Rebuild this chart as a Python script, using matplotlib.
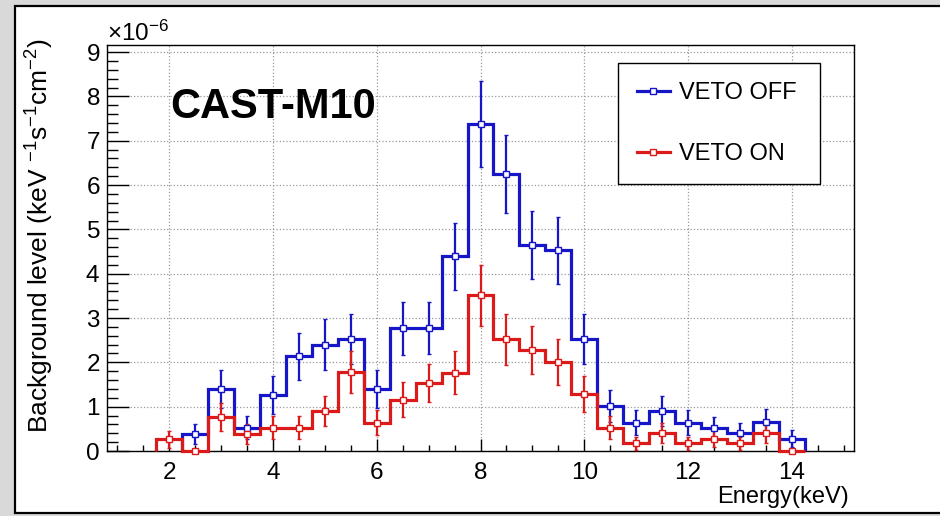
import numpy as np
import matplotlib
matplotlib.use('Agg')
import matplotlib.pyplot as plt
from matplotlib.lines import Line2D
from matplotlib.patches import Rectangle
from matplotlib.ticker import MultipleLocator, ScalarFormatter

plt.rcParams['font.family'] = ['Liberation Sans', 'DejaVu Sans']
plt.rcParams['mathtext.fontset'] = 'custom'
plt.rcParams['mathtext.rm'] = 'Liberation Sans'
plt.rcParams['mathtext.it'] = 'Liberation Sans:italic'
plt.rcParams['mathtext.bf'] = 'Liberation Sans:bold'
plt.rcParams['mathtext.default'] = 'regular'

# Background spectra, in units of 1e-6 counts keV-1 s-1 cm-2, 0.5 keV bins
ESCALA = 1e-6
LARGURA_BIN = 0.5

energia_off = np.arange(2.5, 14.01, 0.5)
nivel_off = [0.39, 1.39, 0.53, 1.26, 2.14, 2.40, 2.52, 1.39, 2.77, 2.78, 4.39, 7.37,
             6.25, 4.64, 4.53, 2.52, 1.01, 0.64, 0.90, 0.64, 0.51, 0.40, 0.65, 0.28]
erro_off = [0.23, 0.43, 0.27, 0.43, 0.53, 0.57, 0.56, 0.43, 0.60, 0.59, 0.75, 0.97,
            0.88, 0.77, 0.76, 0.56, 0.36, 0.29, 0.34, 0.29, 0.26, 0.23, 0.29, 0.19]

energia_on = np.arange(2.0, 14.01, 0.5)
nivel_on = [0.26, 0.00, 0.77, 0.39, 0.53, 0.53, 0.90, 1.78, 0.64, 1.16, 1.54, 1.77, 3.51,
            2.52, 2.28, 2.01, 1.28, 0.52, 0.17, 0.40, 0.17, 0.28, 0.17, 0.40, 0.00]
erro_on = [0.19, 0.00, 0.32, 0.23, 0.26, 0.26, 0.34, 0.47, 0.29, 0.39, 0.43, 0.48, 0.68,
           0.57, 0.54, 0.51, 0.41, 0.26, 0.15, 0.23, 0.15, 0.19, 0.15, 0.23, 0.00]

series = [
    ('VETO OFF', energia_off, nivel_off, erro_off, '#1616c8'),
    ('VETO ON', energia_on, nivel_on, erro_on, '#dc1a1a'),
]

fig = plt.figure(figsize=(9.4, 5.16), dpi=100, facecolor='#d9d9d9')
# white canvas with dark frame
fig.patches.append(Rectangle((14.5 / 940, 3 / 516), 1.0, 507 / 516,
                             transform=fig.transFigure, facecolor='white',
                             edgecolor='black', lw=1.6, zorder=-10))

ax = fig.add_axes([107 / 940, 1 - 451 / 516, 747 / 940, 406 / 516])

handles = []
for nome, centros, valores, erros, cor in series:
    valores = np.asarray(valores) * ESCALA
    erros = np.asarray(erros) * ESCALA
    bordas = np.append(centros - LARGURA_BIN / 2, centros[-1] + LARGURA_BIN / 2)
    ax.stairs(valores, bordas, baseline=0, color=cor, lw=2.3, clip_on=False, zorder=3)
    ax.errorbar(centros, valores, yerr=erros, fmt='s', ms=5, mfc='white', mec=cor,
                mew=1.0, ecolor=cor, elinewidth=1.6, capsize=1.3, capthick=2.2,
                clip_on=False, zorder=4)
    handles.append(Line2D([], [], color=cor, lw=2.3, marker='s', ms=5,
                          mfc='white', mec=cor, mew=1.0))

ax.set_xlim(0.8, 15.2)
ax.set_ylim(0, 9.16 * ESCALA)

ax.xaxis.set_major_locator(MultipleLocator(2))
ax.xaxis.set_minor_locator(MultipleLocator(0.5))
ax.yaxis.set_major_locator(MultipleLocator(1 * ESCALA))
ax.yaxis.set_minor_locator(MultipleLocator(0.2 * ESCALA))
fmt = ScalarFormatter(useMathText=True)
fmt.set_powerlimits((0, 0))
ax.yaxis.set_major_formatter(fmt)

ax.tick_params(axis='both', which='both', direction='in', top=False, right=False,
               labelsize=17.5, width=1)
ax.tick_params(axis='y', which='major', length=16, pad=5)
ax.tick_params(axis='y', which='minor', length=8)
ax.tick_params(axis='x', which='major', length=9, pad=8)
ax.tick_params(axis='x', which='minor', length=4.5)
for s in ax.spines.values():
    s.set_linewidth(1.0)

ax.grid(True, which='major', linestyle=':', color='#9a9a9a', lw=0.9)
ax.set_axisbelow(True)

ax.yaxis.get_offset_text().set_fontsize(17.5)

ax.set_xlabel('Energy(keV)', fontsize=17, loc='right')
ax.xaxis.set_label_coords(0.9933, -0.087)
ax.set_ylabel('Background level (keV $^{-1}$s$^{-1}$cm$^{-2}$)', fontsize=19, loc='top')
ax.yaxis.set_label_coords(-0.068, 1.017)

ax.text(0.0843, 0.820, 'CAST-M10', transform=ax.transAxes, fontsize=30,
        fontweight='bold', va='baseline', ha='left')

leg = ax.legend(handles, [s[0] for s in series], loc='upper left',
                bbox_to_anchor=(0.684, 0.6601, 0.2704, 0.2956), mode='expand',
                borderaxespad=0, fontsize=17, handlelength=1.4, handletextpad=0.38,
                borderpad=0.8, labelspacing=1.65, fancybox=False, framealpha=1,
                edgecolor='black')
leg.get_frame().set_linewidth(1.0)

fig.savefig('out.png', dpi=100, facecolor=fig.get_facecolor())
